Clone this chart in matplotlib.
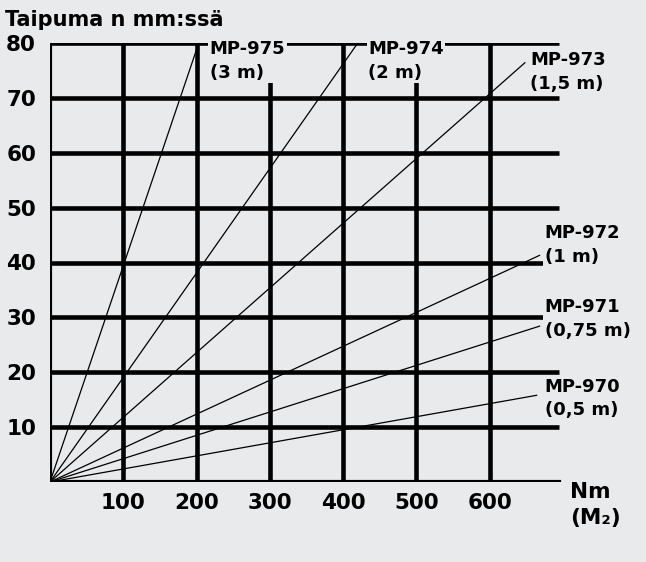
import matplotlib.pyplot as plt

bg = "#e9eaeb"
plt.rcParams['font.family'] = ['DejaVu Sans']

# series: name, length label, end point of each line (Nm, mm)
names = ["MP-975", "MP-974", "MP-973", "MP-972", "MP-971", "MP-970"]
lengths = ["(3 m)", "(2 m)", "(1,5 m)", "(1 m)", "(0,75 m)", "(0,5 m)"]
end_x = [203, 420, 648, 668, 668, 664]
end_y = [80, 80, 76.4, 41.3, 28.4, 15.8]
label_x = [218, 434, 655, 675, 675, 675]
label_y = [80.5, 80.5, 78.5, 47, 33.5, 19]

x_ticks = [100, 200, 300, 400, 500, 600]
y_ticks = [10, 20, 30, 40, 50, 60, 70, 80]

fig = plt.figure(figsize=(6.46, 5.62), dpi=100, facecolor=bg)
ax = fig.add_axes([50/646, 80/562, 513/646, 439/562], facecolor=bg)
ax.set_xlim(0, 700)
ax.set_ylim(0, 80)
for s in ax.spines.values():
    s.set_visible(False)

ax.hlines(y_ticks, 0, 695, color="black", lw=3.3, zorder=1)
ax.vlines(x_ticks, 0, 80, color="black", lw=3.3, zorder=1)
ax.plot([0, 0], [0, 80], color="black", lw=3, zorder=1)
ax.plot([0, 695], [0, 0], color="black", lw=3, zorder=1)

for ex, ey in zip(end_x, end_y):
    ax.plot([0, ex], [0, ey], color="black", lw=0.9, zorder=2)

for n, l, lx, ly in zip(names, lengths, label_x, label_y):
    ax.text(lx, ly, n + "\n" + l, fontsize=13, fontweight="bold", va="top", ha="left",
            linespacing=1.4, zorder=3,
            bbox=dict(facecolor=bg, edgecolor="none", pad=1.0))

ax.set_xticks(x_ticks)
ax.set_yticks(y_ticks)
ax.tick_params(length=0, labelsize=15.5, pad=8)
for t in ax.get_xticklabels() + ax.get_yticklabels():
    t.set_fontweight("bold")
ax.tick_params(axis="y", pad=10)

fig.text(5/646, 1 - 20/562, "Taipuma n mm:ssä", fontsize=15, fontweight="bold", va="center")
fig.text(570/646, 1 - 505/562, "Nm\n(M₂)", fontsize=15.5, fontweight="bold", va="center",
         linespacing=1.4)

fig.savefig("out.png", dpi=100, facecolor=bg)
